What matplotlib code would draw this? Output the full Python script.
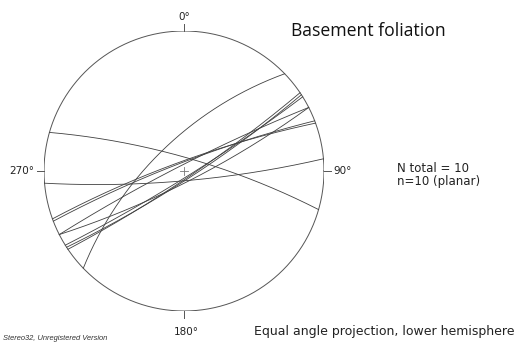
import numpy as np
import matplotlib
matplotlib.use("Agg")
import matplotlib.pyplot as plt

# Planes: strike (right-hand rule, degrees) and dip (degrees)
strikes = [226, 286, 85, 56, 57, 58, 249, 250, 63, 243]
dips    = [66, 79, 82, 84, 83, 85, 83, 82, 81, 85]

title = "Basement foliation"
direction_labels = ["0°", "90°", "180°", "270°"]
stats_lines = ["N total = 10", "n=10 (planar)"]
footer = "Equal angle projection, lower hemisphere"
credit = "Stereo32, Unregistered Version"

W, H = 518, 347
fig = plt.figure(figsize=(W / 100, H / 100), dpi=100)
cx, cy, R = 184, 171, 140
ax = fig.add_axes([(cx - R) / W, (H - cy - R) / H, 2 * R / W, 2 * R / H])
ax.set_xlim(-1, 1)
ax.set_ylim(-1, 1)
ax.set_aspect("equal")
ax.axis("off")

lc = "#404040"
th = np.linspace(0, 2 * np.pi, 721)
ax.plot(np.cos(th), np.sin(th), color="#555555", lw=0.7)

# ticks at cardinal directions
for az in [0, 90, 180, 270]:
    a = np.radians(az)
    ax.plot([np.sin(a), 1.05 * np.sin(a)], [np.cos(a), 1.05 * np.cos(a)],
            color="#555555", lw=0.7, clip_on=False)
# center cross
ax.plot([-0.03, 0.03], [0, 0], color="#777777", lw=0.6)
ax.plot([0, 0], [-0.03, 0.03], color="#777777", lw=0.6)

def great_circle(strike, dip):
    s = np.radians(strike)
    dd = np.radians(strike + 90)
    d = np.radians(dip)
    sv = np.array([np.sin(s), np.cos(s), 0.0])
    dv = np.array([np.sin(dd) * np.cos(d), np.cos(dd) * np.cos(d), np.sin(d)])
    t = np.linspace(0, np.pi, 400)
    p = np.outer(np.cos(t), sv) + np.outer(np.sin(t), dv)
    plunge = np.arcsin(np.clip(p[:, 2], -1, 1))
    trend = np.arctan2(p[:, 0], p[:, 1])
    r = np.tan((np.pi / 2 - plunge) / 2)
    return r * np.sin(trend), r * np.cos(trend)

for stk, dp in zip(strikes, dips):
    x, y = great_circle(stk, dp)
    ax.plot(x, y, color=lc, lw=0.6)

fs = 7.5
fig.text(cx / W, 1 - 17 / H, direction_labels[0], ha="center", va="center", fontsize=fs, color="#222222")
fig.text(333 / W, 1 - 171 / H, direction_labels[1], ha="left", va="center", fontsize=fs, color="#222222")
fig.text(186 / W, 1 - 332 / H, direction_labels[2], ha="center", va="center", fontsize=fs, color="#222222")
fig.text(34 / W, 1 - 171 / H, direction_labels[3], ha="right", va="center", fontsize=fs, color="#222222")

fig.text(291 / W, 1 - 31 / H, title, ha="left", va="center", fontsize=12.7,
         family="Open Sans", color="#111111")
fig.text(397 / W, 1 - 169 / H, stats_lines[0], ha="left", va="center", fontsize=8.5, color="#222222")
fig.text(397 / W, 1 - 181 / H, stats_lines[1], ha="left", va="center", fontsize=8.5, color="#222222")
fig.text(515 / W, 1 - 331 / H, footer, ha="right", va="center", fontsize=9, color="#222222")
fig.text(3 / W, 1 - 338 / H, credit, ha="left", va="center", fontsize=5.4,
         style="italic", family="Liberation Sans", color="#333333")

fig.savefig("out.png", dpi=100)
